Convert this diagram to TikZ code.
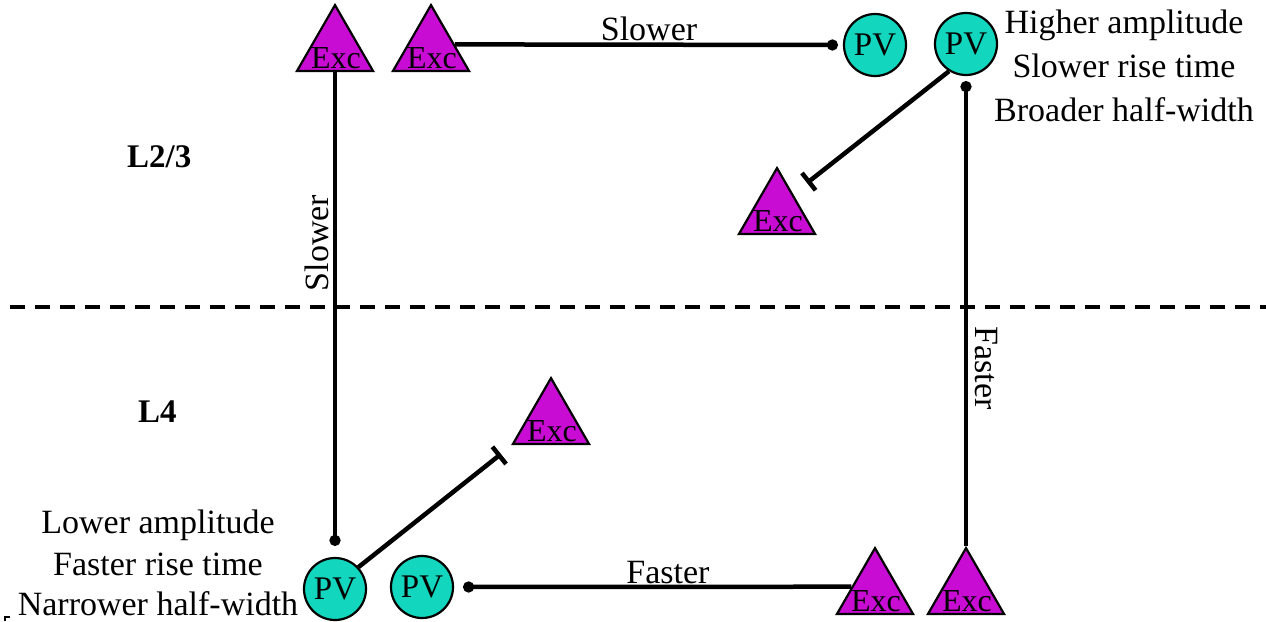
\documentclass[tikz,border=0pt]{standalone}
\usepackage{fontspec}
\setmainfont{Liberation Serif}
\usetikzlibrary{shapes.geometric,arrows.meta,calc}
\definecolor{excfill}{RGB}{200,12,212}
\definecolor{pvfill}{RGB}{18,214,190}
\tikzset{
  conn/.style={line width=4.5pt},
  exc/.style={regular polygon, regular polygon sides=3, minimum size=87.8pt, inner sep=0pt, fill=excfill, draw=black, line width=2.2pt},
  exct/.style={anchor=base, inner sep=0pt, font=\fontsize{32}{36}\selectfont},
  pv/.style={circle, minimum size=62pt, inner sep=0pt, fill=pvfill, draw=black, line width=2.2pt, font=\fontsize{33}{36}\selectfont},
  lbl/.style={anchor=base, inner sep=0pt, font=\fontsize{34}{40}\selectfont},
  layer/.style={anchor=base west, inner sep=0pt, font=\fontsize{33}{38}\selectfont\bfseries},
  dot/.style={-{Circle[length=11pt]}},
  stopbar/.style={-{Bar[width=22pt]}}
}
\begin{document}
\begin{tikzpicture}[x=1pt,y=-1pt]
\useasboundingbox (0,0) rectangle (1266,621);
% layer boundary
\draw[line width=3.2pt, dash pattern=on 15pt off 10pt] (10,307) -- (1266,307);
\node[layer] (l23) at (127,167) {L2/3};
\node[layer] (l4) at (138,422) {L4};
% Exc triangles
\node[exc] (e1) at (335,49) {};
\node[exc] (e2) at (431,49) {};
\node[exc] (e3) at (777,212) {};
\node[exc] (e4) at (551,422) {};
\node[exc] (e5) at (875,592) {};
\node[exc] (e6) at (966,592) {};
\foreach \n in {e1,e2,e3,e4,e5,e6}{
  \node[exct] (\n t) at ($(\n.center)+(1,19)$) {Exc};
}
% PV cells
\node[pv] (pv1) at (875,45) {PV};
\node[pv] (pv2) at (966,44) {PV};
\node[pv] (pv3) at (335,589) {PV};
\node[pv] (pv4) at (422,587) {PV};
% connectors
\draw[conn, dot, shorten >=11pt] (e1.side 2) -- (pv3.north);
\draw[conn, dot, shorten >=5pt] ($(e2.corner 1)!0.6!(e2.corner 3)$) -- (pv1.west);
\draw[conn, dot, shorten >=5pt] (e6.corner 1) -- (pv2.south);
\draw[conn, dot, shorten >=9pt] ($(e5.corner 1)!0.59!(e5.corner 2)$) -- (pv4.east);
\coordinate (b1) at (807,183);
\coordinate (b2) at (501,454);
\draw[conn, stopbar] (pv2.238) -- (b1);
\draw[conn, stopbar] (pv3.43) -- (b2);
% connector labels
\node[lbl] (s1) at (649,40) {Slower};
\node[lbl, rotate=90] (s2) at (328,243) {Slower};
\node[lbl, rotate=-90] (f1) at (975,368) {Faster};
\node[lbl] (f2) at (668,583) {Faster};
% property texts
\node[lbl] (h1) at (1124,33) {Higher amplitude};
\node[lbl] (h2) at (1124,77) {Slower rise time};
\node[lbl] (h3) at (1124,121) {Broader half-width};
\node[lbl] (w1) at (158,533) {Lower amplitude};
\node[lbl] (w2) at (158,575) {Faster rise time};
\node[lbl] (w3) at (158,615) {Narrower half-width};
% small mark at lower left
\draw[line width=1.5pt] (5,621) -- (5,617) -- (10,617);
\end{tikzpicture}
\end{document}
